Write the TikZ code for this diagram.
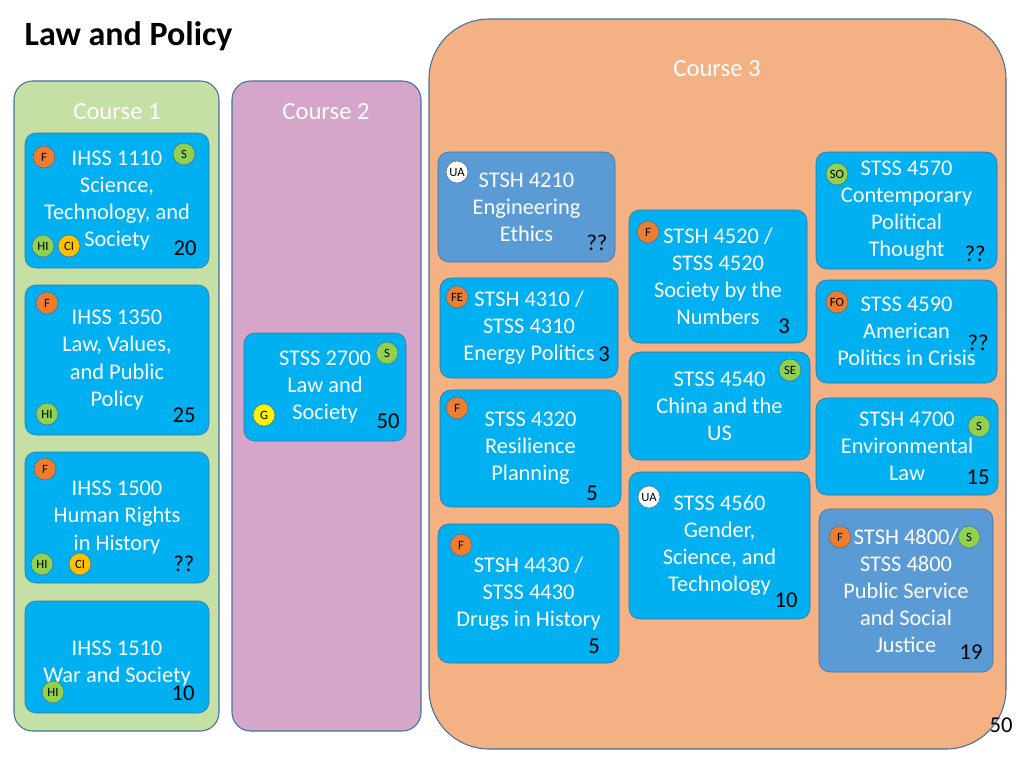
\documentclass[tikz,border=0pt]{standalone}
\usepackage{fontspec}
\setmainfont{Carlito}
\usetikzlibrary{positioning}
\definecolor{grpgreen}{HTML}{C5E0A5}
\definecolor{grppink}{HTML}{D5A6C9}
\definecolor{grporange}{HTML}{F4B183}
\definecolor{cyanbox}{HTML}{00B0F0}
\definecolor{bluebox}{HTML}{5B9BD5}
\definecolor{edgeblue}{HTML}{41719C}
\definecolor{bdorange}{HTML}{ED7D31}
\definecolor{bdgreen}{HTML}{92D050}
\definecolor{bdyellow}{HTML}{FFC000}
\tikzset{
x=0.75pt, y=-0.75pt,
group/.style={draw=edgeblue, thick, rounded corners=14pt}, % column backgrounds
course/.style={draw=edgeblue, fill=cyanbox, rounded corners=8pt, align=center,
  font=\fontsize{16.8}{20.3}\selectfont, text=white, inner sep=0pt},
dark/.style={course, fill=bluebox},
badge/.style={circle, draw=edgeblue, minimum size=16.5pt, inner sep=0pt, font=\fontsize{9.5}{10}\selectfont},
tag/.style={font=\fontsize{17}{18}\selectfont},
head/.style={font=\fontsize{18.5}{20}\selectfont, text=white},
}
\newcommand{\crs}[6][course]{% style, name, x1, y1, x2, y2 ... text
  \node[#1, minimum width={(#5-#3)*0.75pt}, minimum height={(#6-#4)*0.75pt}] (#2) at ({(#3+#5)/2},{(#4+#6)/2})}
\begin{document}
\begin{tikzpicture}
\useasboundingbox (0,0) rectangle (1024,768);
\node[font=\fontsize{25.5}{28}\selectfont\bfseries, anchor=west] (title) at (20,36) {Law and Policy};
% columns
\draw[group, fill=grpgreen] (14,81) rectangle (219,731);
\draw[group, fill=grppink] (232,81) rectangle (421,731);
\draw[group, fill=grporange, rounded corners=45pt] (429,19) rectangle (1006,749);
\node[head] (c1) at (117,112) {Course 1};
\node[head] (c2) at (326,112) {Course 2};
\node[head] (c3) at (717,69) {Course 3};
\node[tag] (page) at (1001,725) {50};
% course 1
\crs{ihss1110}{25}{133}{209}{268} {IHSS 1110\\Science,\\Technology, and\\Society};
\crs{ihss1350}{25}{285}{209}{435} {IHSS 1350\\Law, Values,\\and Public\\Policy};
\crs{ihss1500}{25}{452}{209}{583} {IHSS 1500\\Human Rights\\in History};
\crs{ihss1510}{25}{601}{209}{713} {\\IHSS 1510\\War and Society};
% course 2
\crs{stss2700}{244}{333}{406}{441} {STSS 2700\\Law and\\Society};
% course 3
\crs[dark]{stsh4210}{438}{152}{615}{262} {STSH 4210\\Engineering\\Ethics};
\crs{stsh4310}{440}{278}{618}{378} {STSH 4310 /\\STSS 4310\\Energy Politics};
\crs{stss4320}{440}{390}{621}{507} {STSS 4320\\Resilience\\Planning};
\crs{stsh4430}{438}{524}{619}{663} {STSH 4430 /\\STSS 4430\\Drugs in History};
\crs{stsh4520}{629}{210}{807}{343} {STSH 4520 /\\STSS 4520\\Society by the\\Numbers};
\crs{stss4540}{629}{352}{810}{460} {STSS 4540\\China and the\\US};
\crs{stss4560}{629}{472}{810}{619} {STSS 4560\\Gender,\\Science, and\\Technology};
\crs{stss4570}{816}{152}{997}{269} {STSS 4570\\Contemporary\\Political\\Thought};
\crs{stss4590}{816}{280}{997}{383} {STSS 4590\\American\\Politics in Crisis};
\crs{stsh4700}{816}{398}{998}{495} {STSH 4700\\Environmental\\Law};
\crs[dark]{stsh4800}{819}{509}{993}{672} {STSH 4800/\\STSS 4800\\Public Service\\and Social\\Justice};
% badges
\node[badge, fill=bdorange] (f1) at (44,157) {F};
\node[badge, fill=bdgreen] (s1) at (184,154) {S};
\node[badge, fill=bdgreen] (hi1) at (43,246) {HI};
\node[badge, fill=bdyellow] (ci1) at (69,246) {CI};
\node[badge, fill=bdorange] (f2) at (47,303) {F};
\node[badge, fill=bdgreen] (hi2) at (47,414) {HI};
\node[badge, fill=bdorange] (f3) at (45,469) {F};
\node[badge, fill=bdgreen] (hi3) at (42,564) {HI};
\node[badge, fill=bdyellow] (ci3) at (80,564) {CI};
\node[badge, fill=bdgreen] (hi4) at (53,692) {HI};
\node[badge, fill=bdgreen] (s5) at (387,353) {S};
\node[badge, fill=yellow] (g5) at (264,415) {G};
\node[badge, fill=white] (ua6) at (457,172) {UA};
\node[badge, fill=bdorange] (fe7) at (457,297) {FE};
\node[badge, fill=bdorange] (f8) at (457,408) {F};
\node[badge, fill=bdorange] (f9) at (461,545) {F};
\node[badge, fill=bdorange] (f10) at (648,232) {F};
\node[badge, fill=bdgreen] (se11) at (790,370) {SE};
\node[badge, fill=white] (ua12) at (649,497) {UA};
\node[badge, fill=bdgreen] (so13) at (837,174) {SO};
\node[badge, fill=bdorange] (fo14) at (837,302) {FO};
\node[badge, fill=bdgreen] (s15) at (979,426) {S};
\node[badge, fill=bdorange] (f16) at (840,537) {F};
\node[badge, fill=bdgreen] (s16) at (969,537) {S};
% enrolments
\node[tag] (n1) at (185,248) {20};
\node[tag] (n2) at (184,415) {25};
\node[tag] (n3) at (184,564) {??};
\node[tag] (n4) at (183,693) {10};
\node[tag] (n5) at (388,421) {50};
\node[tag] (n6) at (597,243) {??};
\node[tag] (n7) at (604,354) {3};
\node[tag] (n8) at (592,493) {5};
\node[tag] (n9) at (594,646) {5};
\node[tag] (n10) at (784,326) {3};
\node[tag] (n12) at (786,600) {10};
\node[tag] (n13) at (975,254) {??};
\node[tag] (n14) at (978,343) {??};
\node[tag] (n15) at (978,477) {15};
\node[tag] (n16) at (971,652) {19};
\end{tikzpicture}
\end{document}
